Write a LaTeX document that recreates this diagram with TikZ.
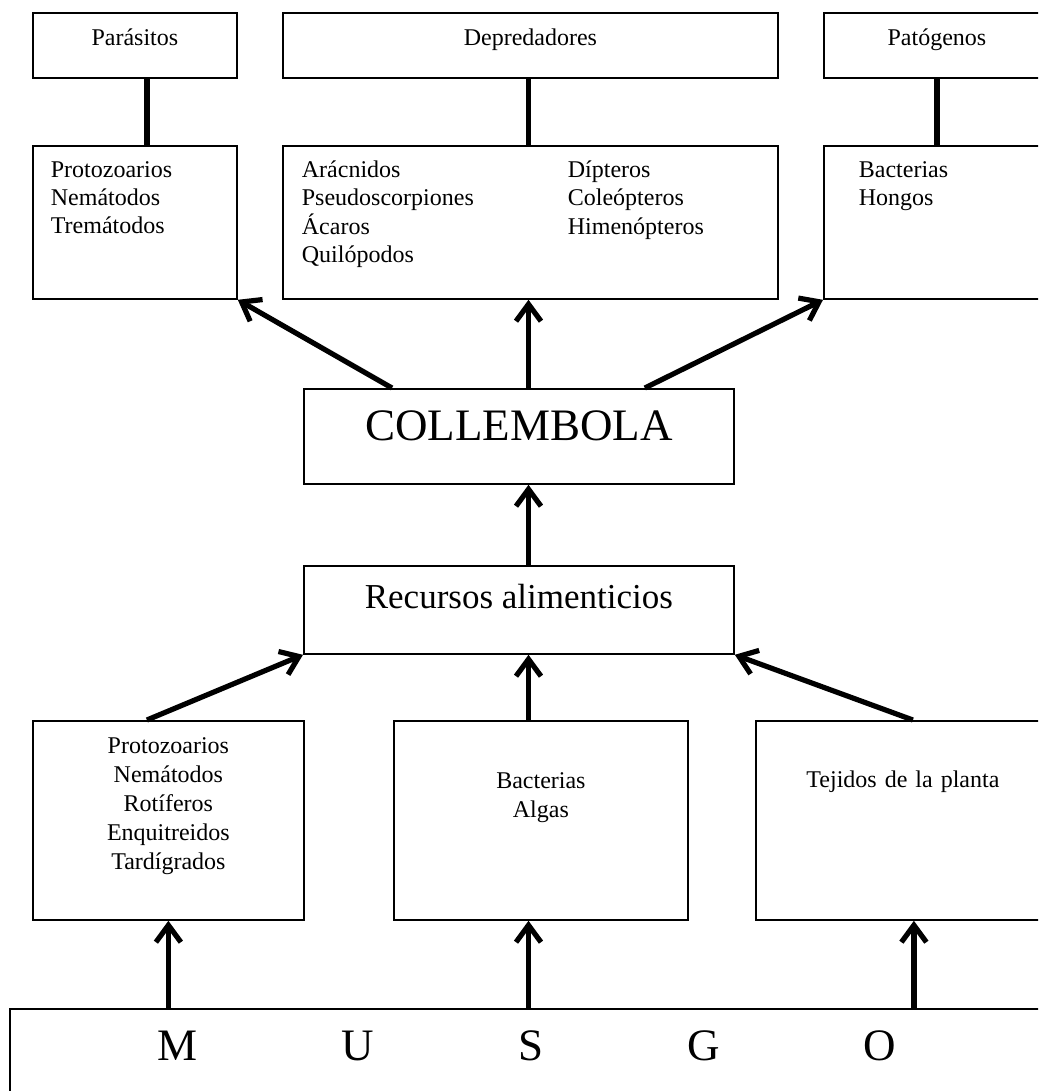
\documentclass[tikz,border=0pt]{standalone}
\usepackage{fontspec}
\setmainfont{Liberation Serif}
\usetikzlibrary{arrows.meta}

\tikzset{
  caja/.style={draw, line width=0.9pt, inner sep=0pt, anchor=north west},
  titulo/.style={caja, font=\fontsize{12}{14}\selectfont, text height=16.5pt, text depth=16pt},
  lista/.style={caja, font=\fontsize{12}{14}\selectfont, align=left, text height=16pt, text depth=60.5pt},
  recurso/.style={caja, font=\fontsize{12}{14.4}\selectfont, align=center},
  enlace/.style={line width=2.6pt},
  flecha/.style={line width=2.6pt, -{Straight Barb[length=8.5pt,width=12.5pt]}},
}

\begin{document}
\begin{tikzpicture}[x=0.5pt, y=-0.5pt]
    \useasboundingbox (0,0) rectangle (1038,1091);
    \clip (0,0) rectangle (1038,1091);

    % Enemigos naturales
    \node[titulo, minimum width=102pt] (paras) at (32,12) {Parásitos};
    \node[titulo, minimum width=247.5pt] (depre) at (282,12) {Depredadores};
    \node[titulo, minimum width=113pt] (pato) at (823,12) {Patógenos};

    \node[lista, text width=84pt, inner xsep=9pt] (parasl) at (32,145) {Protozoarios\\Nemátodos\\Tremátodos};
    \node[lista, text width=228.5pt, inner xsep=9.5pt] (depl) at (282,145) {%
      \begin{tabular}[t]{@{}p{133pt}@{}l@{}}
        Arácnidos & Dípteros\\
        Pseudoscorpiones & Coleópteros\\
        Ácaros & Himenópteros\\
        Quilópodos &
      \end{tabular}};
    \node[lista, text width=78pt, inner xsep=17.5pt] (patol) at (823,145) {Bacterias\\Hongos};

    % Centro
    \node[caja, font=\fontsize{22.5}{27}\selectfont, minimum width=215pt, text height=26pt, text depth=21.5pt] (colle) at (303,388) {COLLEMBOLA};
    \node[caja, font=\fontsize{17.5}{21}\selectfont, minimum width=215pt, text height=21.5pt, text depth=22.5pt] (recur) at (303,565) {Recursos alimenticios};

    % Fuentes de alimento
    \node[recurso, text width=135.5pt, text height=16.5pt, text depth=83pt] (protl) at (32,720) {Protozoarios\\Nemátodos\\Rotíferos\\Enquitreidos\\Tardígrados};
    \node[recurso, text width=147pt, text height=34pt, text depth=65.5pt] (bactl) at (393,720) {Bacterias\\Algas};
    \node[recurso, text width=147pt, text height=33.5pt, text depth=66pt] (tejl) at (755,720) {Tejidos de la planta};

    % Musgo
    \node[caja, font=\fontsize{22.5}{27}\selectfont, align=left, text width=525.5pt, text height=26pt, text depth=20pt] (musgo) at (9,1008)
      {\hspace*{74pt}\makebox[369pt][s]{M\hfill U\hfill S\hfill G\hfill O}};

    \coordinate (eje) at (528.5,0);

    % Uniones
    \draw[enlace] ([xshift=6pt]paras.south) -- ([xshift=6pt]parasl.north);
    \draw[enlace] (eje |- depre.south) -- (eje |- depl.north);
    \draw[enlace] (pato.south) -- (patol.north);

    % Flechas
    \draw[flecha] ([xshift=44.5pt]colle.north west) -- (parasl.south east);
    \draw[flecha] (eje |- colle.north) -- (eje |- depl.south);
    \draw[flecha] ([xshift=-45pt]colle.north east) -- (patol.south west);
    \draw[flecha] (eje |- recur.north) -- (eje |- colle.south);
    \draw[flecha] ([xshift=-10.75pt]protl.north) -- (recur.south west);
    \draw[flecha] (eje |- bactl.north) -- (eje |- recur.south);
    \draw[flecha] ([xshift=5pt]tejl.north) -- (recur.south east);
    \draw[flecha] (musgo.north -| protl.south) -- (protl.south);
    \draw[flecha] (eje |- musgo.north) -- (eje |- bactl.south);
    \draw[flecha] ([xshift=5.5pt]tejl.south |- musgo.north) -- ([xshift=5.5pt]tejl.south);
\end{tikzpicture}
\end{document}
